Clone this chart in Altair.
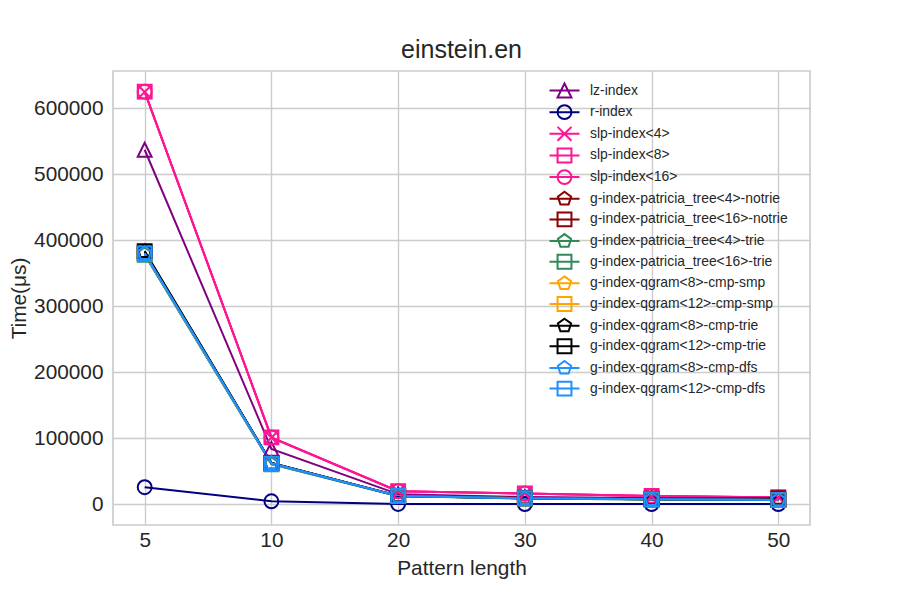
import altair as alt
import pandas as pd

# ---------------- data ----------------
pattern_lengths = [5, 10, 20, 30, 40, 50]

series_names = [
    "lz-index",
    "r-index",
    "slp-index<4>",
    "slp-index<8>",
    "slp-index<16>",
    "g-index-patricia_tree<4>-notrie",
    "g-index-patricia_tree<16>-notrie",
    "g-index-patricia_tree<4>-trie",
    "g-index-patricia_tree<16>-trie",
    "g-index-qgram<8>-cmp-smp",
    "g-index-qgram<12>-cmp-smp",
    "g-index-qgram<8>-cmp-trie",
    "g-index-qgram<12>-cmp-trie",
    "g-index-qgram<8>-cmp-dfs",
    "g-index-qgram<12>-cmp-dfs",
]

lz_index = [537000, 84000, 15500, 11000, 9500, 8500]
r_index = [26000, 4700, 600, 500, 400, 400]
slp_index_4 = [624500, 101000, 19800, 16300, 12600, 10600]
slp_index_8 = [625000, 101500, 20000, 16500, 12700, 10700]
slp_index_16 = [624800, 101300, 19900, 16400, 12650, 10650]
gpt4_notrie = [381000, 62500, 13000, 9800, 8800, 9500]
gpt16_notrie = [380500, 62300, 12900, 9600, 8500, 9200]
gpt4_trie = [378500, 61000, 12500, 9000, 7500, 6500]
gpt16_trie = [378000, 60800, 12400, 8900, 7400, 6400]
qg8_smp = [380000, 62000, 12600, 9100, 7600, 6600]
qg12_smp = [380000, 62000, 12600, 9100, 7600, 6600]
qg8_trie = [383000, 62500, 12800, 9300, 7800, 6800]
qg12_trie = [383500, 62600, 12800, 9300, 7800, 6800]
qg8_dfs = [380200, 62200, 12700, 9200, 7700, 6700]
qg12_dfs = [380000, 62000, 12700, 9200, 7700, 6700]

series_values = [
    lz_index, r_index, slp_index_4, slp_index_8, slp_index_16,
    gpt4_notrie, gpt16_notrie, gpt4_trie, gpt16_trie,
    qg8_smp, qg12_smp, qg8_trie, qg12_trie, qg8_dfs, qg12_dfs,
]

series_colors = [
    "#800080", "#000080", "#FF1493", "#FF1493", "#FF1493",
    "#8B0000", "#8B0000", "#2E8B57", "#2E8B57",
    "#FFA500", "#FFA500", "#000000", "#000000", "#1E90FF", "#1E90FF",
]

series_markers = [
    "triangle", "circle", "x", "square", "circle",
    "pentagon", "square", "pentagon", "square",
    "pentagon", "square", "pentagon", "square", "pentagon", "square",
]

y_ticks = [0, 100000, 200000, 300000, 400000, 500000, 600000]

# ---------------- marker paths ----------------
def marker_path(kind, k=1.0):
    def f(v):
        return f"{v * k:.3f}"
    if kind == "circle":
        return (f"M{f(1)},0A{f(1)},{f(1)},0,1,1,{f(-1)},0"
                f"A{f(1)},{f(1)},0,1,1,{f(1)},0Z")
    if kind == "x":
        return (f"M{f(-1)},{f(-1)}L{f(1)},{f(1)}"
                f"M{f(-1)},{f(1)}L{f(1)},{f(-1)}")
    pts = {
        "triangle": [(0, -1), (-1, 1), (1, 1)],
        "square": [(-1, -1), (1, -1), (1, 1), (-1, 1)],
        "pentagon": [(0, -1), (0.951, -0.309), (0.588, 0.809),
                     (-0.588, 0.809), (-0.951, -0.309)],
    }
    p = pts[kind]
    return "M" + "L".join(f"{f(x)},{f(y)}" for x, y in p) + "Z"


plot_shapes = [marker_path(m) for m in series_markers]
legend_shapes = ["M-2,0L2,0" + marker_path(m, 0.927) for m in series_markers]

rows = []
for name, vals in zip(series_names, series_values):
    for x, v in zip(pattern_lengths, vals):
        rows.append({"series": name, "length": x, "time": v})
df = pd.DataFrame(rows)

FONT = "Liberation Sans"
TXT = "#262626"

x_enc = alt.X(
    "length:O",
    sort=pattern_lengths,
    scale=alt.Scale(type="point", padding=0.25),
    axis=alt.Axis(title="Pattern length", labelAngle=0, grid=True,
                  titleY=43, titleBaseline="middle", labelPadding=5),
)
y_enc = alt.Y(
    "time:Q",
    scale=alt.Scale(domain=[-31250, 656250], nice=False, zero=False),
    axis=alt.Axis(title="Time(μs)", values=y_ticks, format="d",
                  titleX=-94, titleY=227, titleAngle=270,
                  titleBaseline="middle", titleAlign="center", labelPadding=10),
)

color_plain = alt.Color("series:N", scale=alt.Scale(domain=series_names, range=series_colors),
                        legend=None)

lines = alt.Chart(df).mark_line(strokeWidth=2).encode(
    x=x_enc, y=y_enc, color=color_plain, detail="series:N",
)

points = alt.Chart(df).mark_point(filled=False, strokeWidth=2, size=193, opacity=1).encode(
    x=x_enc, y=y_enc, color=color_plain,
    shape=alt.Shape("series:N", scale=alt.Scale(domain=series_names, range=plot_shapes),
                    legend=None),
)

legend_spec = alt.Legend(
    title=None, orient="none", legendX=443, legendY=11, padding=0,
    labelFont=FONT, labelFontSize=13.9, labelColor=TXT, labelLimit=400,
    symbolSize=225, symbolStrokeWidth=2, symbolOpacity=1,
    rowPadding=-1.35, labelOffset=17,
)

legend_layer = alt.Chart(df).transform_filter("false").mark_point(
    filled=False, strokeWidth=2, size=225, opacity=1
).encode(
    x=x_enc, y=y_enc,
    color=alt.Color("series:N", scale=alt.Scale(domain=series_names, range=series_colors),
                    legend=legend_spec),
    shape=alt.Shape("series:N", scale=alt.Scale(domain=series_names, range=legend_shapes),
                    legend=legend_spec),
)

chart = alt.layer(lines, points, legend_layer).resolve_scale(
    color="independent", shape="independent"
).properties(
    width=697, height=454,
    title=alt.TitleParams("einstein.en", fontSize=25, font=FONT, fontWeight="normal",
                          color=TXT, anchor="middle", baseline="bottom", offset=8, dy=25),
    padding={"left": 105, "top": 63, "right": 82, "bottom": 67},
    autosize=alt.AutoSizeParams(type="none"),
).configure_view(
    stroke="#cccccc", strokeWidth=1.7,
).configure_axis(
    labelFont=FONT, titleFont=FONT, labelFontSize=20.8, titleFontSize=20.8,
    labelColor=TXT, titleColor=TXT, titleFontWeight="normal",
    domain=False, ticks=False, gridColor="#cccccc", gridWidth=1.4, gridOpacity=1,
)

chart.save("out.html", embed_options={"renderer": "svg", "actions": False})
